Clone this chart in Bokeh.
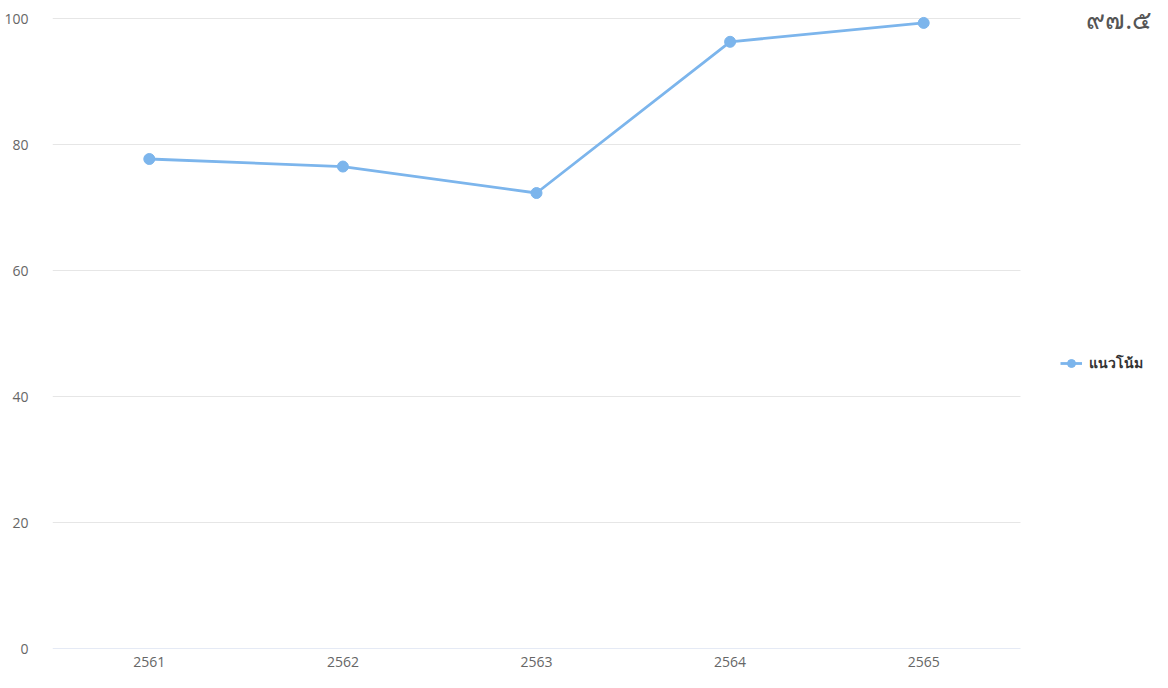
from bokeh.plotting import figure
from bokeh.models import Legend, LegendItem, Label, FixedTicker, Range1d
from bokeh.embed import file_html
from bokeh.resources import INLINE

years = ["2561", "2562", "2563", "2564", "2565"]
values = [77.7, 76.5, 72.3, 96.3, 99.3]
series_name = "แนวโน้ม"
y_ticks = [0, 20, 40, 60, 80, 100]
corner_note = "๙๗.๕"

idx = list(range(len(years)))
y_top = 100 * 648 / 630

p = figure(width=1152, height=672,
           x_range=Range1d(-0.5, -0.5 + 1100 / 193.6),
           y_range=Range1d(0, y_top),
           output_backend="svg", toolbar_location=None,
           min_border_left=52, min_border_right=0, min_border_top=0, min_border_bottom=24)
p.outline_line_color = None
p.background_fill_color = "white"

# horizontal grid lines limited to the category band
grid_y = [t for t in y_ticks if t > 0]
p.segment(x0=[-0.5] * len(grid_y), x1=[len(years) - 0.5] * len(grid_y),
          y0=grid_y, y1=grid_y, line_color="#e6e6e6", line_width=1)
p.segment(x0=[-0.5], x1=[len(years) - 0.5], y0=[0], y1=[0],
          line_color="#ccd6eb", line_width=1)

line = p.line(idx, values, line_color="#7cb5ec", line_width=2.8)
dots = p.scatter(idx, values, size=11, fill_color="#7cb5ec", line_color="#7cb5ec")

p.xgrid.grid_line_color = None
p.ygrid.grid_line_color = None

p.yaxis.ticker = FixedTicker(ticks=y_ticks)
p.yaxis.axis_line_color = None
p.yaxis.major_tick_line_color = None
p.yaxis.minor_tick_line_color = None
p.yaxis.major_label_text_color = "#666666"
p.yaxis.major_label_text_font = "Open Sans"
p.yaxis.major_label_text_font_size = "14px"
p.yaxis.major_label_standoff = 18

p.xaxis.ticker = FixedTicker(ticks=idx)
p.xaxis.major_label_overrides = {i: y for i, y in zip(idx, years)}
p.xaxis.axis_line_color = None
p.xaxis.major_tick_line_color = None
p.xaxis.minor_tick_line_color = None
p.xaxis.major_label_text_color = "#666666"
p.xaxis.major_label_text_font = "Open Sans"
p.xaxis.major_label_text_font_size = "14px"
p.xaxis.major_label_standoff = 2

legend = Legend(items=[LegendItem(label=series_name, renderers=[line, dots])],
                location=(1008, 274), orientation="vertical",
                label_text_font="Noto Sans", label_text_font_size="14px",
                label_text_font_style="bold", label_text_color="#333333",
                border_line_color=None, background_fill_alpha=0,
                glyph_width=22, label_standoff=7, padding=4, margin=0)
p.add_layout(legend, "center")

p.add_layout(Label(x=4.84, y=100, text=corner_note,
                   text_font="Noto Sans", text_font_size="26px", text_color="#555555",
                   text_baseline="alphabetic"))

open("out.html", "w").write(file_html(p, INLINE))
